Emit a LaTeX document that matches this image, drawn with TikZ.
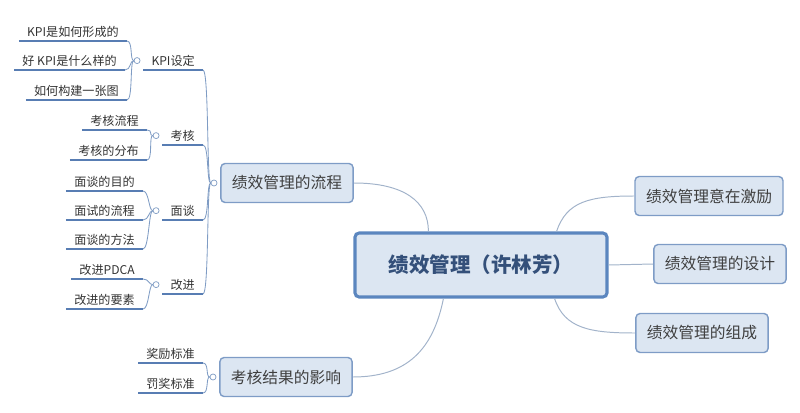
\documentclass[tikz,border=0pt]{standalone}
\usepackage{fontspec}
\setmainfont{Noto Sans CJK SC}
\usetikzlibrary{positioning,calc}
\definecolor{boxfill}{HTML}{DCE6F2}
\definecolor{boxline}{HTML}{7E9CC6}
\definecolor{mainline}{HTML}{5B86BF}
\definecolor{uline}{HTML}{587DB3}
\definecolor{brline}{HTML}{7F9CC4}
\definecolor{conn}{HTML}{A2B3CA}
\definecolor{maintext}{HTML}{34507A}
\definecolor{boxtext}{HTML}{3F3F3F}

\begin{document}
\begin{tikzpicture}
[x=0.025cm, y=-0.025cm,
ar/.style={draw=conn, line width=0.7pt},
br/.style={draw=brline, line width=0.6pt},
topic/.style={
  draw=boxline, fill=boxfill, line width=1pt, rounded corners=3pt,
  minimum height=0.975cm, inner xsep=0.275cm,
  text=boxtext, font=\fontsize{11.2}{13}\selectfont
  },
leaf/.style={anchor=south east, inner xsep=0.2cm, inner ysep=2.5pt,
  text=black!80, font=\fontsize{8.6}{10}\selectfont}
]

\tikzstyle{root}  =  [topic, draw=mainline, line width=2.2pt, minimum width=6.3cm, minimum height=1.6cm, text=maintext, font=\fontsize{14.6}{17}\selectfont\bfseries]
\tikzstyle{knob}  =  [circle, draw=brline, fill=white, line width=0.5pt, minimum size=0.15cm, inner sep=0pt]
\tikzstyle{bar}  =  [draw=uline, line width=1.5pt]

\useasboundingbox (0,0) rectangle (800,413);

\node[root] (root) at (481,265) {绩效管理（许林芳）};

\node[topic] (flow) at (287,183) {绩效管理的流程};
\node[topic] (aim) at (709,196) {绩效管理意在激励};
\node[topic] (design) at (720,264) {绩效管理的设计};
\node[topic] (part) at (702,333) {绩效管理的组成};
\node[topic] (effect) at (286,377) {考核结果的影响};

% second level
\node[leaf] (kpi) at (203,70) {KPI设定};
\node[leaf] (exam) at (203,145) {考核};
\node[leaf] (talk) at (203,220) {面谈};
\node[leaf] (impr) at (203,294) {改进};

% leaves
\node[leaf] (kpi1) at (127,41) {KPI是如何形成的};
\node[leaf] (kpi2) at (125,70) {好 KPI是什么样的};
\node[leaf] (kpi3) at (127,100) {如何构建一张图};
\node[leaf] (exam1) at (147,130) {考核流程};
\node[leaf] (exam2) at (147,160) {考核的分布};
\node[leaf] (talk1) at (143,191) {面谈的目的};
\node[leaf] (talk2) at (143,220) {面试的流程};
\node[leaf] (talk3) at (143,249) {面谈的方法};
\node[leaf] (impr1) at (143,279) {改进PDCA};
\node[leaf] (impr2) at (143,309) {改进的要素};
\node[leaf] (res1) at (203,363) {奖励标准};
\node[leaf] (res2) at (203,393) {罚奖标准};

\foreach \n in {kpi,exam,talk,impr,kpi1,kpi2,kpi3,exam1,exam2,talk1,talk2,talk3,impr1,impr2,res1,res2}
  \draw[bar] (\n.south west) -- (\n.south east);

% edges from the root
\draw[ar] (flow.east) .. controls +(50,0) and +(0,-30) .. ($(root.north west)+(75,0)$);
\draw[ar] ($(root.north east)+(-52,0)$) .. controls +(10,-30) and +(-45,0) .. (aim.west);
\draw[ar] (root.east) -- (design.west);
\draw[ar] ($(root.south east)+(-54,0)$) .. controls +(10,30) and +(-45,0) .. (part.west);
\draw[ar] ($(root.south west)+(90,0)$) .. controls +(-10,50) and +(55,0) .. (effect.east);

% brackets
\node[knob, left=2pt of flow] (k0) {};
\node[knob, left=2pt of effect] (k5) {};
\node[knob, left=2pt of kpi] (k1) {};
\node[knob, left=2pt of exam] (k2) {};
\node[knob, left=2pt of talk] (k3) {};
\node[knob, left=2pt of impr] (k4) {};

\foreach \n in {kpi,exam,talk,impr}
  \draw[br] (\n.south east) .. controls +(6,0) and +(-4,0) .. (k0.west);
\foreach \n in {res1,res2}
  \draw[br] (\n.south east) .. controls +(6,0) and +(-4,0) .. (k5.west);
\foreach \n in {kpi1,kpi2,kpi3}
  \draw[br] (\n.south east) .. controls +(6,0) and +(-4,0) .. (k1.west);
\foreach \n in {exam1,exam2}
  \draw[br] (\n.south east) .. controls +(6,0) and +(-4,0) .. (k2.west);
\foreach \n in {talk1,talk2,talk3}
  \draw[br] (\n.south east) .. controls +(6,0) and +(-4,0) .. (k3.west);
\foreach \n in {impr1,impr2}
  \draw[br] (\n.south east) .. controls +(6,0) and +(-4,0) .. (k4.west);

\end{tikzpicture}
\end{document}
